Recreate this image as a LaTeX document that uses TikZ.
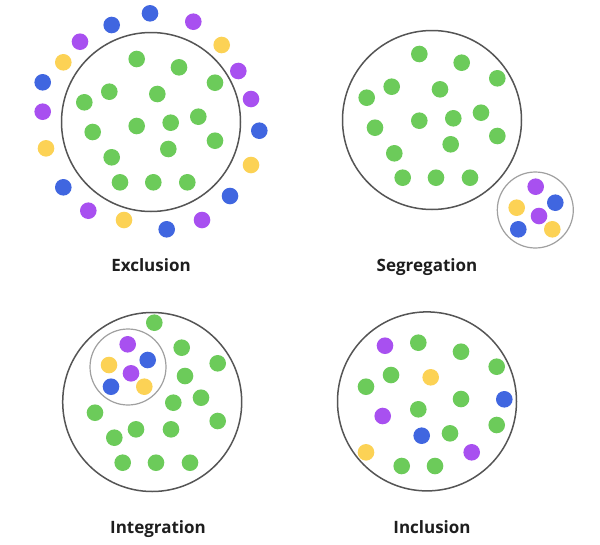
\documentclass[tikz,border=0pt]{standalone}
\usepackage{fontspec}
\setmainfont{Open Sans}
\definecolor{dgreen}{HTML}{6CCB5A}
\definecolor{dblue}{HTML}{4066E0}
\definecolor{dpurple}{HTML}{A850F0}
\definecolor{dyellow}{HTML}{FCD255}
\definecolor{ringdark}{HTML}{555555}
\definecolor{ringlight}{HTML}{A0A0A0}
\definecolor{labeltext}{HTML}{1E1E1E}
\tikzset{
  dot/.style={circle, fill=#1, draw=none, inner sep=0pt, minimum size=16.6pt},
  bigring/.style={circle, draw=ringdark, line width=1.5pt, inner sep=0pt, minimum size=179pt},
  smallring/.style={circle, draw=ringlight, line width=1.2pt, inner sep=0pt, minimum size=76pt},
  caption/.style={font=\fontsize{17}{20}\selectfont\bfseries, text=labeltext, inner sep=0pt, anchor=base}
}
\begin{document}
\begin{tikzpicture}[x=1pt,y=-1pt]
\useasboundingbox[fill=white] (0,0) rectangle (600,544);

% ---------- Exclusion ----------
\node[bigring] (exring) at (151,122) {};
\foreach \x/\y [count=\i] in {136.7/59, 179/67.3, 215/82.7, 109.3/91.7, 157.3/94, 84.3/102.3,
  198.3/116.7, 136.7/126, 170.7/122.7, 92.7/132, 215/140.7, 168.3/149, 111.7/157.3,
  120/182.3, 153.3/182.3, 187.3/182.3}
  \node[dot=dgreen] (exg\i) at (\x,\y) {};
\foreach \x/\y/\c [count=\i] in {150/13.3/dblue, 193.3/21.7/dpurple, 111.7/25/dblue, 80/41.7/dpurple,
  221.7/45/dyellow, 63.3/62.3/dyellow, 238.3/71/dpurple, 42.7/82.3/dblue, 251/99/dpurple,
  42.7/111.7/dpurple, 259.3/130.7/dblue, 46/148.3/dyellow, 251/165/dyellow, 63.3/187.3/dblue,
  230/196/dblue, 88.3/210.7/dpurple, 124/220/dyellow, 202/220/dpurple, 166.7/229.3/dblue}
  \node[dot=\c] (exo\i) at (\x,\y) {};
\node[caption] (exlabel) at (151,271.5) {Exclusion};

% ---------- Segregation ----------
\node[bigring] (sgring) at (432,120) {};
\foreach \x/\y [count=\i] in {419.3/54, 461.7/62.7, 497.3/78.3, 391.7/86.7, 440/89.3, 366.7/97.7,
  419.3/120.7, 453.3/118.3, 481/112.7, 375/127.7, 497.3/136, 450.7/144.3, 394.3/153.3,
  402.7/177.7, 436/177.7, 470/177.7}
  \node[dot=dgreen] (sgg\i) at (\x,\y) {};
\node[smallring] (sgsmall) at (535.3,210) {};
\foreach \x/\y/\c [count=\i] in {535.7/186.7/dpurple, 555.3/202.7/dblue, 516.7/207.7/dyellow,
  539/216/dpurple, 518.3/229.3/dblue, 552.3/229.3/dyellow}
  \node[dot=\c] (sgo\i) at (\x,\y) {};
\node[caption] (sglabel) at (427,271.5) {Segregation};

% ---------- Integration ----------
\node[bigring] (inring) at (152.2,402) {};
\foreach \x/\y [count=\i] in {154.3/322.7, 181.7/347.7, 217.7/363.3, 185/376, 201/397.7,
  173.3/402.7, 95/412.7, 217.7/421, 136/429.3, 171/429.3, 114.3/437.7,
  122.7/462.7, 156/462.7, 190/462.7}
  \node[dot=dgreen] (ing\i) at (\x,\y) {};
\node[smallring] (insmall) at (128,367) {};
\foreach \x/\y/\c [count=\i] in {127.7/344.3/dpurple, 109/365/dyellow, 147.7/360/dblue,
  131/373.3/dpurple, 111/386.7/dblue, 144.3/386.7/dyellow}
  \node[dot=\c] (ino\i) at (\x,\y) {};
\node[caption] (inlabel) at (158,533) {Integration};

% ---------- Inclusion ----------
\node[bigring] (icring) at (427,401.4) {};
\foreach \x/\y/\c [count=\i] in {385/345.7/dpurple, 418.3/342.7/dgreen, 461/351.7/dgreen,
  496.7/366.7/dgreen, 391/375/dgreen, 430.7/377.3/dyellow, 366/386.7/dgreen, 461/399/dgreen,
  504.3/399.3/dblue, 382.7/416/dpurple, 418.3/409.3/dgreen, 496.7/425/dgreen,
  421.7/435.7/dblue, 450/433.3/dgreen, 366/452.3/dyellow, 471.7/452.3/dpurple,
  401.7/466/dgreen, 435/466/dgreen}
  \node[dot=\c] (icd\i) at (\x,\y) {};
\node[caption] (iclabel) at (432,533) {Inclusion};
\end{tikzpicture}
\end{document}
